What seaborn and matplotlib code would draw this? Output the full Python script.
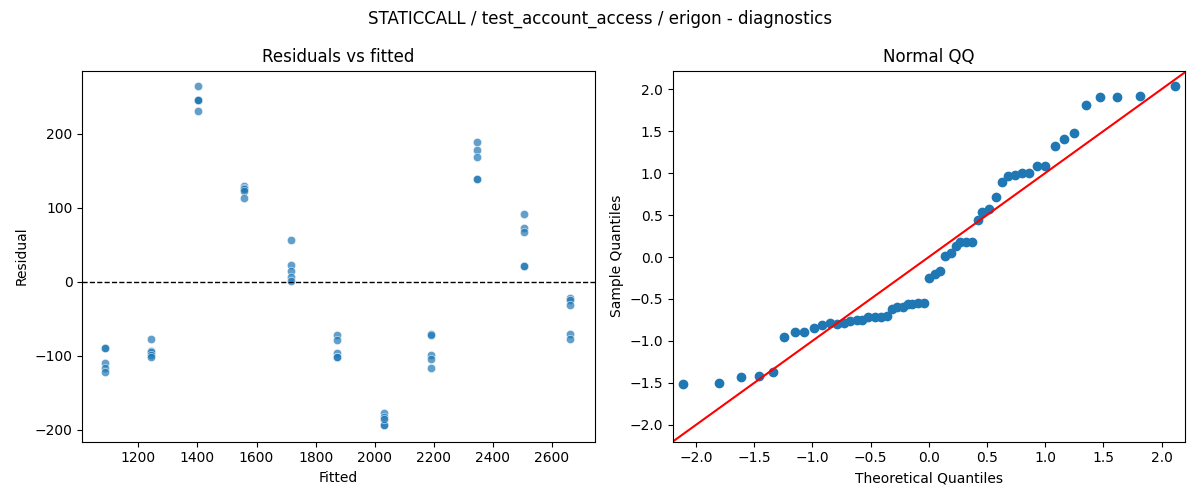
import matplotlib
matplotlib.use("Agg")
import matplotlib.pyplot as plt
import seaborn as sns
import numpy as np
import pandas as pd

group_fitted = [1088, 1244, 1403, 1559, 1718, 1874, 2032, 2192, 2348, 2506, 2662]
group_resid = [
    [-90, -90, -110, -116, -122],
    [-77, -93, -95, -99, -102],
    [264, 245, 245, 245, 231],
    [129, 127, 125, 123, 113],
    [56, 23, 15, 6, 1],
    [-72, -79, -96, -102, -102],
    [-177, -183, -194, -194, -185],
    [-71, -72, -99, -105, -116],
    [188, 178, 169, 138, 138],
    [92, 72, 67, 21, 21],
    [-22, -25, -32, -70, -77],
]
theoretical_q = [-2.11, -1.80, -1.61, -1.46, -1.34, -1.24, -1.15, -1.07, -0.99, -0.92,
                 -0.85, -0.79, -0.73, -0.68, -0.62, -0.57, -0.52, -0.46, -0.41, -0.36,
                 -0.32, -0.27, -0.22, -0.18, -0.14, -0.09, -0.04, 0.0, 0.05, 0.10,
                 0.14, 0.19, 0.23, 0.27, 0.32, 0.37, 0.42, 0.46, 0.52, 0.58,
                 0.63, 0.68, 0.74, 0.80, 0.86, 0.93, 1.00, 1.08, 1.16, 1.25,
                 1.35, 1.47, 1.62, 1.81, 2.11]
sample_q = [-1.51, -1.50, -1.43, -1.42, -1.37, -0.95, -0.89, -0.89, -0.85, -0.81,
            -0.79, -0.80, -0.79, -0.76, -0.75, -0.75, -0.72, -0.72, -0.71, -0.70,
            -0.62, -0.59, -0.59, -0.56, -0.56, -0.55, -0.55, -0.25, -0.20, -0.17,
            0.01, 0.05, 0.13, 0.18, 0.18, 0.18, 0.44, 0.53, 0.57, 0.71,
            0.89, 0.97, 0.98, 1.00, 1.00, 1.08, 1.08, 1.32, 1.40, 1.48,
            1.81, 1.91, 1.91, 1.92, 2.04]

rows = [(f, r) for f, rs in zip(group_fitted, group_resid) for r in rs]
df = pd.DataFrame(rows, columns=["Fitted", "Residual"])

fig, (ax1, ax2) = plt.subplots(1, 2, figsize=(12, 5), dpi=100)
sns.scatterplot(data=df, x="Fitted", y="Residual", alpha=0.7, ax=ax1)
ax1.axhline(0, color="black", linestyle="--", linewidth=1)
ax1.set_title("Residuals vs fitted")
ax1.set_xlim(1010, 2745)
ax1.set_ylim(-216, 285)

ax2.scatter(theoretical_q, sample_q, color="#1f77b4")
ax2.axline((0, 0), slope=1, color="red")
ax2.set_xlim(-2.2, 2.2)
ax2.set_ylim(-2.2, 2.22)
ax2.set_xlabel("Theoretical Quantiles")
ax2.set_ylabel("Sample Quantiles")
ax2.set_title("Normal QQ")

fig.suptitle("STATICCALL / test_account_access / erigon - diagnostics")
fig.tight_layout()
fig.savefig("out.png")
